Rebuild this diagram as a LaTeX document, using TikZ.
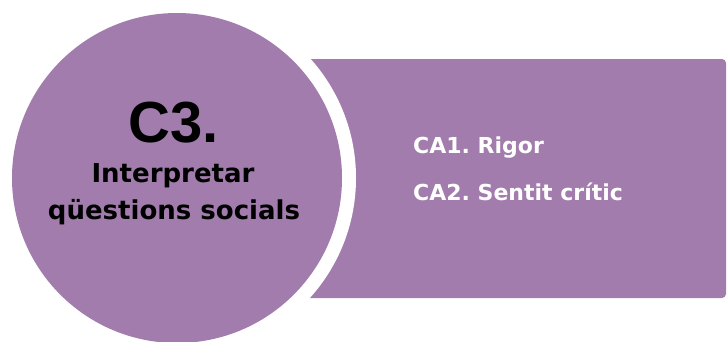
\documentclass[tikz,border=0pt]{standalone}
\usepackage{fontspec}
\setmainfont{DejaVu Sans}
\newfontfamily\headfont{Liberation Sans}
\usetikzlibrary{positioning}
\definecolor{lila}{RGB}{162,124,172}
\tikzset{
  titletext/.style = {anchor=base, inner sep=0pt, font=\headfont\bfseries\fontsize{58}{58}\selectfont},
  circtext/.style = {anchor=base, inner sep=0pt, font=\bfseries\fontsize{26}{30}\selectfont},
  listtext/.style = {anchor=base west, inner sep=0pt, text=white, font=\bfseries\fontsize{22}{25}\selectfont},
}
\frenchspacing
\begin{document}
\begin{tikzpicture}[x=1pt, y=-1pt]
\useasboundingbox (0,0) rectangle (727,341);
% box on the right
\fill[lila, rounded corners=4pt] (300,59) rectangle (726,298);
% white ring cut out of the box, then the circle
\fill[white] (177,178) circle (179pt);
\fill[lila] (177,178) circle (165pt);
\node[titletext] (c3) at (174,142) {C3.};
\node[circtext] (line1) at (173,182) {Interpretar};
\node[circtext] (line2) at (174,219) {qüestions socials};
\node[listtext] (ca1) at (413,153) {CA1. Rigor};
\node[listtext] (ca2) at (413,200) {CA2. Sentit crític};
\end{tikzpicture}
\end{document}
